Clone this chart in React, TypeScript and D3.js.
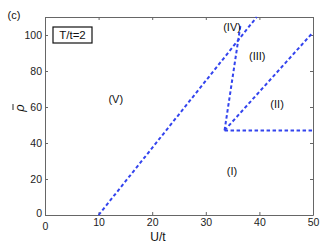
import { axisBottom, axisLeft, axisTop, axisRight, line, scaleLinear, select } from "d3";
import { useRef, useEffect } from "react";

// phase boundaries, (U/t, rho) pairs
const boundaryVIV: [number, number][] = [[10, 0], [39.5, 110]];
const boundaryIVIII: [number, number][] = [[33.5, 47], [36.5, 106]];
const boundaryIIIII: [number, number][] = [[33.5, 47], [50, 101.5]];
const boundaryI: [number, number][] = [[33.5, 47], [50, 47]];

const regionNames = ["(V)", "(IV)", "(III)", "(II)", "(I)"];
const regionU = [13.2, 34.9, 39.6, 43.3, 34.9];
const regionRho = [64.4, 104.4, 88, 61.5, 24.4];

const xTicks = [0, 10, 20, 30, 40, 50];
const yTicks = [0, 20, 40, 60, 80, 100];

export default function App() {
  const width = 332;
  const height = 248;
  const marginTop = 17;
  const marginRight = 19;
  const marginBottom = 33;
  const marginLeft = 45;

  const gx = useRef(null);
  const gy = useRef(null);
  const gxTop = useRef(null);
  const gyRight = useRef(null);

  const x = scaleLinear([0, 50], [marginLeft, width - marginRight]);
  const y = scaleLinear([0, 110], [height - marginBottom, marginTop]);

  const lineCb = line<[number, number]>((d) => x(d[0]), (d) => y(d[1]));

  useEffect(() => {
    const style = (g: any) => {
      g.select(".domain").attr("stroke", "#666");
      g.selectAll(".tick line").attr("stroke", "#666");
      g.selectAll(".tick text").attr("fill", "#222").attr("font-size", 10.5).attr("font-family", "Liberation Sans, Arial, sans-serif");
    };
    select(gx.current)
      .call(axisBottom(x).tickValues(xTicks).tickSizeInner(-3).tickSizeOuter(0).tickPadding(4) as any)
      .call(style);
    select(gy.current)
      .call(axisLeft(y).tickValues(yTicks).tickSizeInner(-3).tickSizeOuter(0).tickPadding(3) as any)
      .call(style);
    select(gxTop.current)
      .call(axisTop(x).tickValues(xTicks).tickSizeInner(-3).tickSizeOuter(0).tickFormat(() => "") as any)
      .call(style);
    select(gyRight.current)
      .call(axisRight(y).tickValues(yTicks).tickSizeInner(-3).tickSizeOuter(0).tickFormat(() => "") as any)
      .call(style);
    select(gy.current).selectAll(".tick text").filter((d: any) => d === 0).attr("dy", "0.1em");
    select(gx.current).selectAll(".tick text").filter((d: any) => d === 0).attr("dy", "1.05em");
  }, [x, y]);

  const dashed = [boundaryVIV, boundaryIVIII, boundaryIIIII, boundaryI];

  return (
    <svg
      width={width}
      height={height}
      style={{ position: "absolute", left: 0, top: 0, background: "white" }}
      fontFamily="Liberation Sans, Arial, sans-serif"
    >
      <g ref={gxTop} transform={`translate(0,${marginTop})`} />
      <g ref={gyRight} transform={`translate(${width - marginRight},0)`} />
      <g ref={gx} transform={`translate(0,${height - marginBottom})`} />
      <g ref={gy} transform={`translate(${marginLeft},0)`} />
      {dashed.map((d, i) => (
        <path key={i} d={lineCb(d) ?? ""} fill="none" stroke="#3344ee" strokeWidth={2} strokeDasharray="3.5,2.5" />
      ))}
      {regionNames.map((name, i) => (
        <text key={name} x={x(regionU[i])} y={y(regionRho[i])} textAnchor="middle" dy="0.35em" fontSize={11} fill="#111">
          {name}
        </text>
      ))}
      <rect x={53} y={27} width={39} height={16} fill="white" stroke="#111" strokeWidth={1.2} />
      <text x={72.5} y={35} textAnchor="middle" dy="0.35em" fontSize={11.5} fill="#111">
        T/t=2
      </text>
      <text x={14} y={15} textAnchor="middle" dy="0.35em" fontSize={11} fill="#111">
        (c)
      </text>
      <text x={158} y={237} textAnchor="middle" dy="0.35em" fontSize={12} fill="#111">
        U/t
      </text>
      <g transform="translate(24,108) rotate(-90)">
        <text x={0} y={0} textAnchor="middle" fontSize={13} fontStyle="italic" fill="#111">
          ρ
        </text>
        <line x1={-2} x2={4} y1={-11} y2={-11} stroke="#111" strokeWidth={0.9} />
      </g>
    </svg>
  );
}
